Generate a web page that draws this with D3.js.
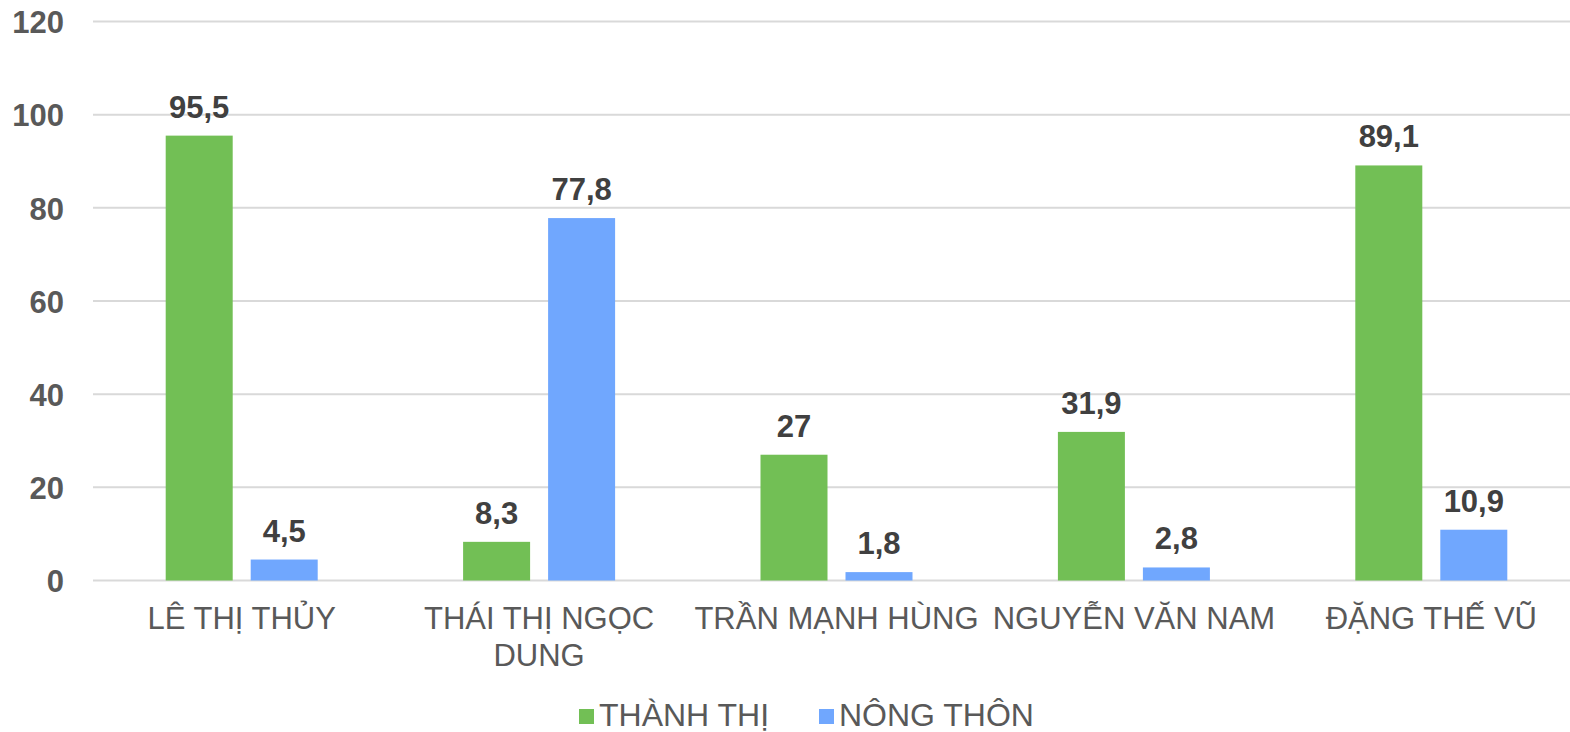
<!DOCTYPE html>
<html>
<head>
<meta charset="utf-8">
<script src="https://cdn.jsdelivr.net/npm/d3@7/dist/d3.min.js"></script>
<style>
  html, body { margin: 0; padding: 0; background: #fff; overflow: hidden; }
  svg { display: block; font-family: "Liberation Sans", Arial, sans-serif; }
</style>
</head>
<body>
<svg id="chart" width="1570" height="732"></svg>
<script>
// Names of the candidates along the x axis
const categories = ["LÊ THỊ THỦY", "THÁI THỊ NGỌC DUNG", "TRẦN MẠNH HÙNG", "NGUYỄN VĂN NAM", "ĐẶNG THẾ VŨ"];
// Series names and values
const seriesNames = ["THÀNH THỊ", "NÔNG THÔN"];
const thanhThi = [95.5, 8.3, 27, 31.9, 89.1];
const nongThon = [4.5, 77.8, 1.8, 2.8, 10.9];
// Value axis ticks
const yTicks = [0, 20, 40, 60, 80, 100, 120];

const colors = ["#72bf55", "#70a7fe"];
const seriesValues = [thanhThi, nongThon];

const svg = d3.select("#chart");

const x = d3.scaleBand().domain(categories).range([93, 93 + 5 * 297.4]);
const y = d3.scaleLinear().domain([0, 120]).range([580.5, 21.5]);

const barW = 67, barGap = 18;
const offset = d3.scaleBand().domain(seriesNames)
  .range([x.bandwidth() / 2 - barW - barGap / 2, x.bandwidth() / 2 + barW + barGap / 2])
  .paddingInner(barGap / (barW + barGap));

// Horizontal gridlines
svg.append("g")
  .selectAll("line")
  .data(yTicks)
  .join("line")
  .attr("x1", 93).attr("x2", 1570)
  .attr("y1", d => y(d)).attr("y2", d => y(d))
  .attr("stroke", "#d9d9d9").attr("stroke-width", 2);

// Y axis labels
const yAxis = svg.append("g").attr("transform", "translate(64,0)")
  .call(d3.axisLeft(y).tickValues(yTicks).tickSize(0).tickPadding(0));
yAxis.select(".domain").remove();
yAxis.selectAll("text")
  .attr("font-size", 31).attr("fill", "#595959")
  .attr("font-family", "Liberation Sans, Arial, sans-serif")
  .attr("font-weight", "bold").attr("dy", "0.36em");

// Bars and value labels
const fmt = v => String(v).replace(".", ",");
seriesNames.forEach((name, si) => {
  const data = categories.map((c, i) => ({ c, v: seriesValues[si][i] }));
  const g = svg.append("g");
  g.selectAll("rect")
    .data(data)
    .join("rect")
    .attr("x", d => x(d.c) + offset(name))
    .attr("width", offset.bandwidth())
    .attr("y", d => y(d.v))
    .attr("height", d => y(0) - y(d.v))
    .attr("fill", colors[si]);
  g.selectAll("text")
    .data(data)
    .join("text")
    .attr("x", d => x(d.c) + offset(name) + offset.bandwidth() / 2)
    .attr("y", d => y(d.v) - 18)
    .attr("text-anchor", "middle")
    .attr("font-size", 31).attr("font-weight", "bold")
    .attr("fill", "#404040")
    .text(d => fmt(d.v));
});

// Category labels, wrapped to the band width
const xAxis = svg.append("g").attr("transform", "translate(0,580)")
  .call(d3.axisBottom(x).tickSize(0).tickPadding(0));
xAxis.select(".domain").remove();
xAxis.selectAll("text")
  .attr("font-size", 31).attr("fill", "#595959")
  .attr("font-family", "Liberation Sans, Arial, sans-serif")
  .attr("y", 49).attr("dy", 0)
  .each(function (d) {
    const t = d3.select(this);
    const words = d.split(" ");
    t.text(null);
    let line = [];
    let tspan = t.append("tspan").attr("x", 0).attr("dy", 0);
    for (const w of words) {
      line.push(w);
      tspan.text(line.join(" "));
      if (tspan.node().getComputedTextLength() > x.bandwidth() && line.length > 1) {
        line.pop();
        tspan.text(line.join(" "));
        line = [w];
        tspan = t.append("tspan").attr("x", 0).attr("dy", 37).text(w);
      }
    }
  });

// Legend
const legendItems = [{ name: seriesNames[0], x: 579 }, { name: seriesNames[1], x: 819 }];
const legend = svg.append("g");
legendItems.forEach((it, i) => {
  legend.append("rect")
    .attr("x", it.x).attr("y", 709).attr("width", 15).attr("height", 15)
    .attr("fill", colors[i]);
  legend.append("text")
    .attr("x", it.x + 20).attr("y", 726)
    .attr("font-size", 32).attr("fill", "#595959")
    .text(it.name);
});
</script>
</body>
</html>
